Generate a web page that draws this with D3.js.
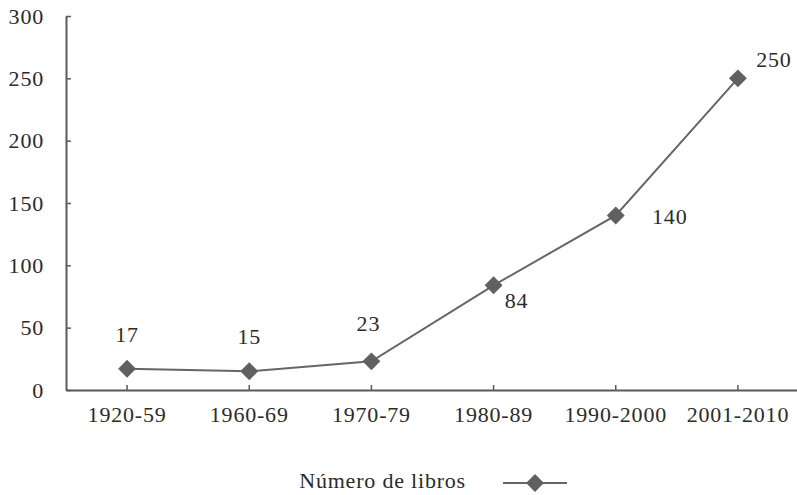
<!DOCTYPE html>
<html>
<head>
<meta charset="utf-8">
<script src="https://cdn.jsdelivr.net/npm/d3@7"></script>
<style>
  body { margin: 0; background: #fff; }
  svg text { font-family: "Liberation Serif", serif; fill: #2b2b2b; letter-spacing: 0.8px; }
</style>
</head>
<body>
<div id="chart"></div>
<script>
const categories = ['1920-59', '1960-69', '1970-79', '1980-89', '1990-2000', '2001-2010'];
const books = [17, 15, 23, 84, 140, 250];
const yTicks = [0, 50, 100, 150, 200, 250, 300];
// label offset from each point (dx, dy)
const labelOffsets = [[0, -32], [0, -32], [-3, -35], [23, 18], [54, 3], [36, -16]];

const width = 797;
const height = 495;
const margin = { top: 16, right: -2, bottom: 105, left: 66 };
const fontSize = '22px';

const svg = d3.select('#chart')
  .append('svg')
  .attr('width', width)
  .attr('height', height);

const x = d3.scaleBand()
  .domain(categories)
  .range([margin.left, width - margin.right]);

const y = d3.scaleLinear()
  .domain([0, 300])
  .range([height - margin.bottom, margin.top]);

const axisColor = '#5a5a5a';

// y axis
const yAxis = svg.append('g')
  .attr('transform', `translate(${margin.left},0)`)
  .call(d3.axisLeft(y).tickValues(yTicks).tickSize(-5).tickPadding(22).tickSizeOuter(0));

// x axis
const xAxis = svg.append('g')
  .attr('transform', `translate(0,${y(0)})`)
  .call(d3.axisBottom(x).tickSize(-5).tickPadding(16).tickSizeOuter(0));

[yAxis, xAxis].forEach((g) => {
  g.select('.domain').attr('stroke', axisColor).attr('stroke-width', 2);
  g.selectAll('.tick line').attr('stroke', axisColor).attr('stroke-width', 1.5);
  g.selectAll('.tick text')
    .style('font-family', '"Liberation Serif", serif')
    .style('font-size', fontSize)
    .attr('fill', '#2b2b2b');
});
xAxis.selectAll('.tick text').attr('dy', '0.71em');

const cx = (d, i) => x(categories[i]) + x.bandwidth() / 2;

const line = d3.line()
  .x((d, i) => cx(d, i))
  .y((d) => y(d));

svg.append('path')
  .datum(books)
  .attr('d', line)
  .attr('fill', 'none')
  .attr('stroke', '#666')
  .attr('stroke-width', 2);

const diamond = d3.symbol().type(d3.symbolSquare).size(160);

svg.selectAll('.marker')
  .data(books)
  .enter()
  .append('path')
  .attr('class', 'marker')
  .attr('d', diamond)
  .attr('transform', (d, i) => `translate(${cx(d, i)},${y(d)}) rotate(45)`)
  .attr('fill', '#606060');

svg.selectAll('.value-label')
  .data(books)
  .enter()
  .append('text')
  .attr('class', 'value-label')
  .attr('x', (d, i) => cx(d, i) + labelOffsets[i][0])
  .attr('y', (d, i) => y(d) + labelOffsets[i][1])
  .attr('text-anchor', 'middle')
  .attr('dominant-baseline', 'middle')
  .style('font-size', fontSize)
  .text((d) => d);

// legend
const legend = svg.append('g').attr('transform', 'translate(0,483)');
legend.append('text')
  .attr('x', 466)
  .attr('y', 0)
  .attr('text-anchor', 'end')
  .attr('dominant-baseline', 'middle')
  .style('font-size', fontSize)
  .text('Número de libros');
legend.append('line')
  .attr('x1', 503)
  .attr('x2', 567)
  .attr('stroke', '#666')
  .attr('stroke-width', 2);
legend.append('path')
  .attr('d', diamond)
  .attr('transform', 'translate(535,0) rotate(45)')
  .attr('fill', '#606060');
</script>
</body>
</html>
